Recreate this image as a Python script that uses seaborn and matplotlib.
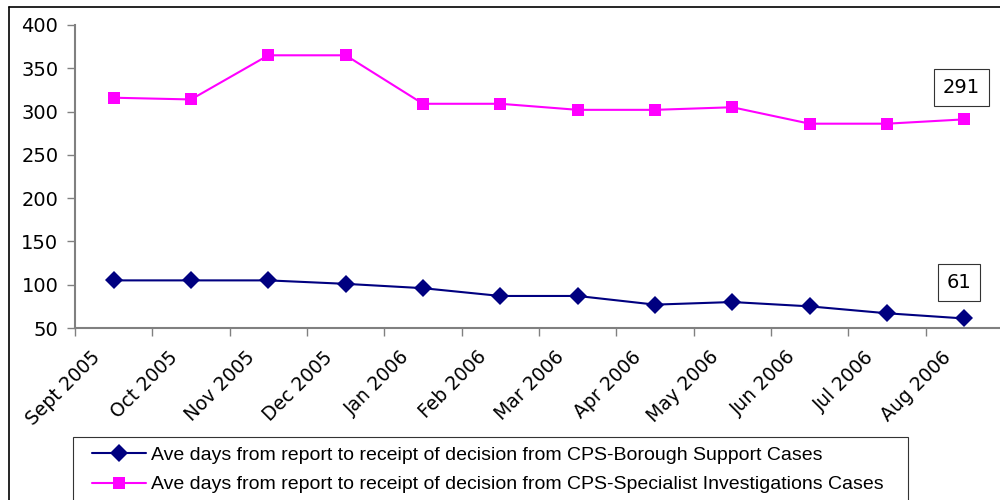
import pandas as pd
import numpy as np
import matplotlib.pyplot as plt
import seaborn as sns
from matplotlib.lines import Line2D
from matplotlib.patches import Rectangle

# Data
months = ['Sept 2005', 'Oct 2005', 'Nov 2005', 'Dec 2005', 'Jan 2006', 'Feb 2006',
          'Mar 2006', 'Apr 2006', 'May 2006', 'Jun 2006', 'Jul 2006', 'Aug 2006']
borough = [105, 105, 105, 101, 96, 87, 87, 77, 80, 75, 67, 61]
specialist = [316, 314, 365, 365, 309, 309, 302, 302, 305, 286, 286, 291]

name_b = 'Ave days from report to receipt of decision from CPS-Borough Support Cases'
name_s = 'Ave days from report to receipt of decision from CPS-Specialist Investigations Cases'

df = pd.DataFrame({
    'month': months * 2,
    'days': borough + specialist,
    'series': [name_b] * len(months) + [name_s] * len(months),
})

sns.set_style('white', {'text.color': 'black', 'xtick.color': 'black', 'ytick.color': 'black'})
plt.rcParams['font.family'] = ['DejaVu Sans']

fig = plt.figure(figsize=(10, 5), dpi=100)
ax = fig.add_axes([0.075, 0.344, 0.928, 0.606])

sns.lineplot(data=df, x='month', y='days', hue='series', style='series',
             palette={name_b: '#000080', name_s: '#FF00FF'},
             markers={name_b: 'D', name_s: 's'}, dashes=False,
             markersize=9, markeredgewidth=0, linewidth=1.5, sort=False, ax=ax)

ax.set_xlim(-0.5, len(months) - 0.5)
ax.set_ylim(50, 400)
ax.set_yticks(np.arange(50, 401, 50))
# labels sit a little left of each category centre, like the original
ax.set_xticks(np.arange(len(months)) - 0.3)
ax.set_xticklabels(months, rotation=45, ha='right', rotation_mode='anchor', fontsize=13.5)
ax.set_xticks(np.arange(-0.5, len(months), 1), minor=True)
ax.tick_params(axis='x', which='major', length=0, pad=14, labelcolor='black')
ax.tick_params(axis='x', which='minor', length=6, width=1, color='#808080', direction='out', bottom=True)
ax.tick_params(axis='y', length=6, width=1, color='#808080', direction='out', left=True,
               labelsize=14, pad=6, labelcolor='black')
ax.set_xlabel('')
ax.set_ylabel('')
for s in ['top', 'right']:
    ax.spines[s].set_visible(False)
for s in ['left', 'bottom']:
    ax.spines[s].set_color('#808080')
    ax.spines[s].set_linewidth(1.5)

# end labels
bbox = dict(boxstyle='square,pad=0.45', fc='white', ec='#333333', lw=0.8)
ax.annotate(str(specialist[-1]), (len(months) - 1, specialist[-1]), xytext=(-3, 32),
            textcoords='offset pixels', ha='center', va='center', fontsize=14, bbox=bbox)
ax.annotate(str(borough[-1]), (len(months) - 1, borough[-1]), xytext=(-5, 36),
            textcoords='offset pixels', ha='center', va='center', fontsize=14, bbox=bbox)

# legend
handles, labels = ax.get_legend_handles_labels()
ax.get_legend().remove()
fig.legend(handles, labels, loc='upper left', bbox_to_anchor=(0.092, 0.107),
           bbox_transform=fig.transFigure, frameon=False,
           prop={'family': 'Liberation Sans', 'size': 14}, handlelength=2.8,
           borderpad=0, labelspacing=0.6, handletextpad=0.25, borderaxespad=0)
fig.add_artist(Rectangle((0.073, -0.01), 0.835, 0.136, transform=fig.transFigure,
                         fill=False, ec='#333333', lw=0.8))

# outer chart frame
fig.add_artist(Line2D([0.009, 0.009], [0, 0.986], color='black', lw=1.2, transform=fig.transFigure))
fig.add_artist(Line2D([0.009, 1], [0.986, 0.986], color='black', lw=1.2, transform=fig.transFigure))

fig.savefig('out.png', dpi=100)
